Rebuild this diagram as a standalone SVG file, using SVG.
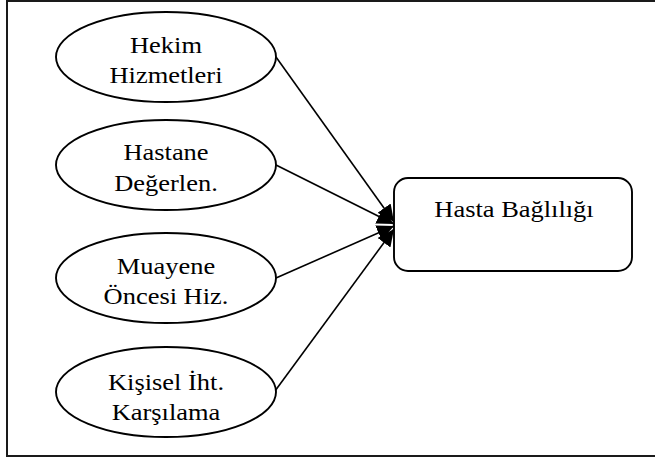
<svg xmlns="http://www.w3.org/2000/svg" width="655" height="459" viewBox="0 0 655 459">
  <style>
    .frame { fill: #ffffff; stroke: #1a1a1a; stroke-width: 2; }
    .node { fill: #ffffff; stroke: #000000; stroke-width: 1.9; }
    .edge { fill: none; stroke: #000000; stroke-width: 1.6; }
    .lbl { font-family: "Liberation Serif", "Times New Roman", serif; font-size: 23px; fill: #000000; text-anchor: middle; }
  </style>
  <defs>
    <marker id="arrow" markerUnits="userSpaceOnUse" markerWidth="18" markerHeight="16" refX="17" refY="8" orient="auto">
      <path d="M0,0 L17,8 L0,16 z" fill="#000000"/>
    </marker>
  </defs>
  <rect class="frame" x="7" y="1" width="652" height="455"/>
  <g id="connectors">
    <line class="edge" x1="276" y1="57" x2="394" y2="222" marker-end="url(#arrow)"/>
    <line class="edge" x1="276" y1="165" x2="394" y2="224" marker-end="url(#arrow)"/>
    <line class="edge" x1="276" y1="278" x2="394" y2="226" marker-end="url(#arrow)"/>
    <line class="edge" x1="275" y1="391" x2="394" y2="229" marker-end="url(#arrow)"/>
  </g>
  <g id="node-hekim">
    <ellipse class="node" cx="166" cy="57" rx="110" ry="45"/>
    <text class="lbl" transform="translate(166,53) scale(1.15,1)">Hekim</text>
    <text class="lbl" transform="translate(166,83) scale(1.15,1)">Hizmetleri</text>
  </g>
  <g id="node-hastane">
    <ellipse class="node" cx="166" cy="165" rx="110" ry="45"/>
    <text class="lbl" transform="translate(166,160) scale(1.15,1)">Hastane</text>
    <text class="lbl" transform="translate(166,191) scale(1.15,1)">Değerlen.</text>
  </g>
  <g id="node-muayene">
    <ellipse class="node" cx="166" cy="278" rx="110" ry="45"/>
    <text class="lbl" transform="translate(166,274) scale(1.15,1)">Muayene</text>
    <text class="lbl" transform="translate(166,304) scale(1.15,1)">Öncesi Hiz.</text>
  </g>
  <g id="node-kisisel">
    <ellipse class="node" cx="166" cy="392" rx="110" ry="45"/>
    <text class="lbl" transform="translate(166,390) scale(1.15,1)">Kişisel İht.</text>
    <text class="lbl" transform="translate(166,420) scale(1.15,1)">Karşılama</text>
  </g>
  <g id="node-hasta">
    <rect class="node" x="394" y="178" width="238" height="93" rx="14" ry="14"/>
    <text class="lbl" transform="translate(514,217) scale(1.15,1)">Hasta Bağlılığı</text>
  </g>
</svg>
